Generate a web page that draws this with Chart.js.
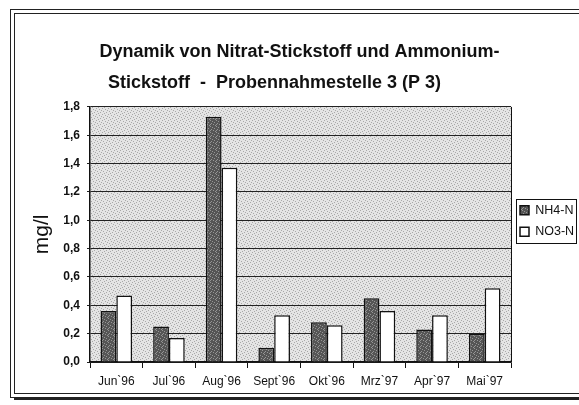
<!DOCTYPE html>
<html>
<head>
<meta charset="utf-8">
<script src="https://cdn.jsdelivr.net/npm/chart.js@4/dist/chart.umd.min.js"></script>
<style>
  html, body { margin: 0; padding: 0; background: #fff; }
  #wrap { width: 579px; height: 405px; position: relative; }
</style>
</head>
<body>
<div id="wrap"><canvas id="barchart" width="579" height="405"></canvas></div>
<script>
const months = ["Jun`96", "Jul`96", "Aug`96", "Sept`96", "Okt`96", "Mrz`97", "Apr`97", "Mai`97"];
const nh4 = [0.36, 0.25, 1.73, 0.10, 0.28, 0.45, 0.23, 0.20];
const no3 = [0.47, 0.17, 1.37, 0.33, 0.26, 0.36, 0.33, 0.52];
const yTicks = [0, 0.2, 0.4, 0.6, 0.8, 1.0, 1.2, 1.4, 1.6, 1.8];

// stippled textures like the scanned print
function makePattern(base, dot, cells) {
  const c = document.createElement("canvas");
  c.width = 6; c.height = 6;
  const g = c.getContext("2d");
  g.fillStyle = base;
  g.fillRect(0, 0, 6, 6);
  g.fillStyle = dot;
  cells.forEach(p => g.fillRect(p[0], p[1], 1, 1));
  return g.createPattern(c, "repeat");
}
const plotFill = makePattern("#e4e4e4", "#a8a8a8", [[0, 0], [3, 1], [1, 3], [4, 4], [2, 5], [5, 2]]);
const darkFill = makePattern("#555555", "#959595", [[0, 0], [2, 1], [4, 2], [1, 3], [3, 4], [5, 5], [0, 4]]);

const frame = {
  id: "frame",
  beforeDraw(chart) {
    const c = chart.ctx, a = chart.chartArea;
    c.save();
    c.fillStyle = plotFill;
    c.fillRect(a.left, a.top, a.right - a.left, a.bottom - a.top);
    c.strokeStyle = "#222";
    c.lineWidth = 1;
    c.strokeRect(10.5, 9.5, 600, 388);
    c.strokeRect(14.5, 13.5, 600, 380);
    c.lineWidth = 3;
    c.beginPath();
    c.moveTo(14, 398.5);
    c.lineTo(579, 398.5);
    c.stroke();
    c.restore();
  },
  afterDraw(chart) {
    const c = chart.ctx, a = chart.chartArea;
    c.save();
    c.strokeStyle = "#111";
    c.lineWidth = 1;
    c.beginPath();
    c.moveTo(a.right + 0.5, a.top);
    c.lineTo(a.right + 0.5, a.bottom);
    c.stroke();
    const boxes = chart.legend.legendHitBoxes;
    if (boxes && boxes.length) {
      const l = Math.min(...boxes.map(b => b.left)) - 4;
      const t = Math.min(...boxes.map(b => b.top)) - 5;
      const r = Math.min(Math.max(...boxes.map(b => b.left + b.width)) + 2, chart.width - 1.5);
      const btm = Math.max(...boxes.map(b => b.top + b.height)) + 5;
      c.strokeRect(Math.round(l) + 0.5, Math.round(t) + 0.5, Math.round(r - l), Math.round(btm - t));
    }
    c.restore();
  }
};

new Chart(document.getElementById("barchart"), {
  type: "bar",
  data: {
    labels: months,
    datasets: [
      {
        label: "NH4-N",
        data: nh4,
        backgroundColor: darkFill,
        borderColor: "#111",
        borderWidth: 1.5,
      },
      {
        label: "NO3-N",
        data: no3,
        backgroundColor: "#ffffff",
        borderColor: "#111",
        borderWidth: 1.5,
      },
    ],
  },
  options: {
    responsive: false,
    animation: false,
    layout: { padding: { left: 20, right: 0, top: 37, bottom: 0 } },
    datasets: { bar: { barPercentage: 1, categoryPercentage: 0.6 } },
    plugins: {
      title: {
        display: true,
        text: ["Dynamik von Nitrat-Stickstoff und Ammonium-", "Stickstoff  -  Probennahmestelle 3 (P 3)          "],
        color: "#111",
        font: { family: "Liberation Sans, Arial, sans-serif", size: 18, weight: "bold", lineHeight: 1.72 },
        padding: { top: 0, bottom: 8 },
      },
      legend: {
        position: "right",
        maxWidth: 68,
        labels: {
          color: "#111",
          font: { family: "Liberation Sans, Arial, sans-serif", size: 12.5 },
          boxWidth: 9,
          boxHeight: 9,
          padding: 9,
        },
      },
      tooltip: { enabled: false },
    },
    scales: {
      x: {
        afterFit(scale) { scale.height = 43; },
        grid: { display: true, offset: true, drawOnChartArea: false, color: "#111", tickLength: 6 },
        border: { color: "#111", width: 1.5 },
        ticks: {
          color: "#111",
          padding: 6,
          maxRotation: 0,
          font: { family: "Liberation Sans, Arial, sans-serif", size: 12 },
        },
      },
      y: {
        min: 0,
        max: 1.8,
        afterFit(scale) { scale.width = 70; },
        afterBuildTicks(scale) { scale.ticks = yTicks.map(v => ({ value: v })); },
        grid: { color: "#222", lineWidth: 1, tickLength: 3 },
        border: { color: "#111", width: 1.5 },
        ticks: {
          color: "#111",
          padding: 7,
          font: { family: "Liberation Sans, Arial, sans-serif", size: 12, weight: "bold" },
          callback: v => v.toFixed(1).replace(".", ","),
        },
        title: {
          display: true,
          text: "mg/l",
          color: "#111",
          padding: { top: 10, bottom: 0 },
          font: { family: "Liberation Sans, Arial, sans-serif", size: 21 },
        },
      },
    },
  },
  plugins: [frame],
});
</script>
</body>
</html>
